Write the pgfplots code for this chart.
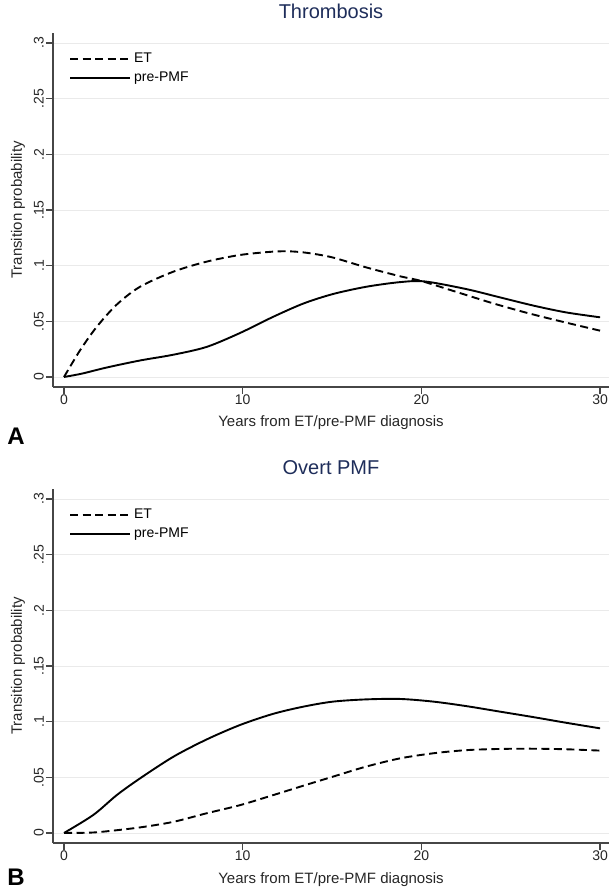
\documentclass[border=0pt]{standalone}
\usepackage{fontspec}
\setmainfont{Liberation Sans}
\usepackage{pgfplots}
\pgfplotsset{compat=1.18}
\definecolor{ttl}{RGB}{30,45,90}
\definecolor{spine}{RGB}{70,70,70}
\definecolor{gridc}{RGB}{234,234,234}

\pgfplotsset{stata/.style={
  scale only axis, width=556pt, height=354pt, anchor=south west,
  xmin=-0.616, xmax=30.5, ymin=-0.009, ymax=0.309,
  axis x line*=bottom, axis y line*=left,
  axis line style={-, draw=spine, line width=1.6pt},
  xtick={0,10,20,30}, ytick={0,0.05,0.1,0.15,0.2,0.25,0.3},
  yticklabels={0,.05,.1,.15,.2,.25,.3},
  tick align=outside, major tick length=7pt,
  tick style={draw=spine, line width=1.2pt},
  ymajorgrids, major grid style={draw=gridc, line width=0.8pt},
  tick label style={font=\fontsize{14}{16}\selectfont, text=black!85},
  /pgf/number format/assume math mode=true,
  yticklabel style={rotate=90, anchor=south, inner sep=2pt},
  xticklabel style={anchor=north, inner sep=1pt},
  label style={font=\fontsize{15}{17}\selectfont, text=black!85},
  xlabel={Years from ET/pre-PMF diagnosis},
  ylabel={Transition probability},
  xlabel style={at={(axis description cs:0.5,0)}, anchor=base, yshift=-40pt, inner sep=0pt},
  ylabel style={at={(axis description cs:-0.063,0.5)}, anchor=center, inner sep=0pt},
  title style={at={(0.5,1)}, anchor=base, yshift=8pt, inner sep=0pt,
    font=\fontsize{20}{24}\selectfont, text=ttl},
  legend style={at={(0.0234,0.959)}, anchor=north west, draw=none, fill=none,
    font=\fontsize{14}{16}\selectfont,
    nodes={inner sep=3pt, text height=10pt, text depth=3pt}, row sep=0pt},
  legend cell align=left,
  legend image code/.code={\draw[#1] (0pt,0pt) -- (60pt,0pt);},
  etline/.style={black, line width=1.9pt, dash pattern=on 8pt off 4.5pt, smooth},
  pmfline/.style={black, line width=1.9pt, smooth},
}}

\begin{document}
\begin{tikzpicture}
\useasboundingbox (0,0) rectangle (609pt,891pt);

% panel A
\begin{axis}[stata, at={(53pt,504pt)}, title={Thrombosis}]
\addplot[etline] coordinates {
 (0,0) (0.9,0.024) (1.83,0.045) (2.95,0.065) (4.25,0.081) (6.12,0.0946)
 (7.98,0.1036) (9.85,0.1096) (11.7,0.1126) (12.7,0.1128) (13.6,0.1115)
 (15.0,0.1075) (16.9,0.0985) (18.8,0.0905) (20,0.0862) (22,0.0762)
 (24,0.0662) (26,0.0572) (28,0.0492) (30,0.0416)};
\addlegendentry{ET}
\addplot[pmfline] coordinates {
 (0,0) (1,0.003) (2.39,0.0085) (4.25,0.0148) (6.12,0.020) (7.98,0.027)
 (9.85,0.0395) (11.7,0.054) (13.4,0.066) (15.05,0.0745) (16.9,0.081)
 (18.8,0.0852) (20.2,0.0858) (22.5,0.079) (24.4,0.0715) (26.3,0.064)
 (28.1,0.058) (30,0.0536)};
\addlegendentry{pre-PMF}
\end{axis}

% panel B
\begin{axis}[stata, at={(53pt,48pt)}, title={Overt PMF}]
\addplot[etline] coordinates {
 (0,0) (1.45,0.0003) (2.39,0.0015) (4.25,0.005) (6.12,0.010) (7.98,0.0177)
 (9.85,0.025) (11.7,0.034) (13.4,0.0425) (15.05,0.0506) (16.9,0.0596)
 (18.8,0.067) (20.67,0.0716) (22.5,0.0744) (24.4,0.0755) (26.3,0.0757)
 (28.1,0.0752) (30,0.074)};
\addlegendentry{ET}
\addplot[pmfline] coordinates {
 (0,0) (1.64,0.0162) (2.95,0.034) (4.25,0.049) (6.12,0.0685) (7.98,0.084)
 (9.85,0.097) (11.7,0.107) (13.4,0.1135) (15.05,0.118) (16.9,0.120)
 (18.8,0.1204) (20.67,0.118) (22.5,0.114) (24.4,0.109) (26.3,0.104)
 (28.1,0.099) (30,0.094)};
\addlegendentry{pre-PMF}
\end{axis}

\node[font=\bfseries\fontsize{24}{26}\selectfont, inner sep=0pt] at (16pt,455pt) {A};
\node[font=\bfseries\fontsize{24}{26}\selectfont, inner sep=0pt] at (16pt,14pt) {B};
\end{tikzpicture}
\end{document}
